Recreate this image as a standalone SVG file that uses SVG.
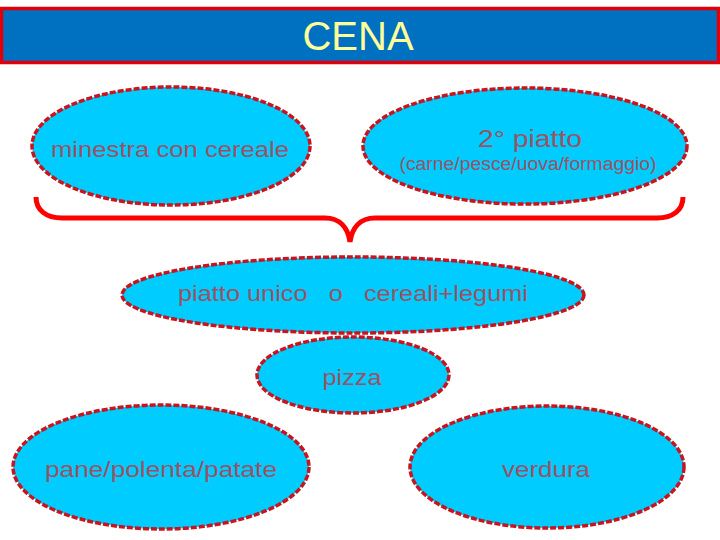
<svg xmlns="http://www.w3.org/2000/svg" width="720" height="540" viewBox="0 0 720 540">
<style>
.node{fill:#00CCFF;stroke:#C8141E;stroke-width:3.5;stroke-dasharray:6 2}
.lbl{font-family:"Liberation Sans",Arial,sans-serif;fill:#9C5264;text-anchor:middle}
</style>
<rect width="720" height="540" fill="#FFFFFF"/>
<g id="header">
<rect x="1.5" y="8.5" width="717" height="54" fill="#0070C0" stroke="#E0000A" stroke-width="3.5"/>
<text x="358" y="50" font-family="'Liberation Sans',Arial,sans-serif" font-size="40" fill="#FFFF99" text-anchor="middle">CENA</text>
</g>
<g id="connectors">
<path d="M36,197 C36,210 46,218 62,218 L325,218 C340,218 348,228 350,242 C352,228 360,218 375,218 L657,218 C673,218 683,210 683,197" fill="none" stroke="#FF0000" stroke-width="5"/>
</g>
<g id="minestra">
<ellipse class="node" cx="171" cy="146" rx="139" ry="59"/>
<text class="lbl" x="170" y="157" font-size="22" textLength="238" lengthAdjust="spacingAndGlyphs">minestra con cereale</text>
</g>
<g id="secondo">
<ellipse class="node" cx="525" cy="146" rx="162" ry="58"/>
<text class="lbl" x="530" y="147" font-size="23" textLength="104" lengthAdjust="spacingAndGlyphs">2° piatto</text>
<text class="lbl" x="528" y="170" font-size="18" textLength="257" lengthAdjust="spacingAndGlyphs">(carne/pesce/uova/formaggio)</text>
</g>
<g id="piattounico">
<ellipse class="node" cx="353" cy="295" rx="231" ry="38"/>
<text class="lbl" x="353" y="301" font-size="22" textLength="350" lengthAdjust="spacingAndGlyphs" xml:space="preserve">piatto unico   o   cereali+legumi</text>
</g>
<g id="pizza">
<ellipse class="node" cx="353" cy="375" rx="96" ry="38"/>
<text class="lbl" x="352" y="385" font-size="22" textLength="59" lengthAdjust="spacingAndGlyphs">pizza</text>
</g>
<g id="pane">
<ellipse class="node" cx="161" cy="467" rx="148" ry="62"/>
<text class="lbl" x="161" y="477" font-size="22" textLength="232" lengthAdjust="spacingAndGlyphs">pane/polenta/patate</text>
</g>
<g id="verdura">
<ellipse class="node" cx="547" cy="467" rx="137" ry="61"/>
<text class="lbl" x="546" y="477" font-size="22" textLength="88" lengthAdjust="spacingAndGlyphs">verdura</text>
</g>
</svg>
